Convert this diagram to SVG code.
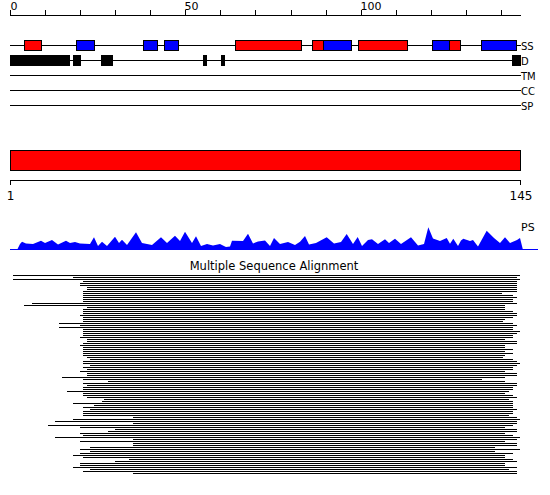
<svg xmlns="http://www.w3.org/2000/svg" width="550" height="495" viewBox="0 0 550 495">
<style>
.ln{stroke:#000;stroke-width:1;fill:none}
.red{fill:#ff0000;stroke:#000;stroke-width:1}
.blue{fill:#0000ff;stroke:#000;stroke-width:1}
.blk{fill:#000}
.t{font-family:"DejaVu Sans",sans-serif;fill:#000}
</style>
<rect width="550" height="495" fill="#fff"/>
<g id="ruler-top">
<path class="ln" d="M10 15.5H521M10.5 10V15M45.5 10V15M80.5 10V15M115.5 10V15M150.5 10V15M185.5 10V15M220.5 10V15M255.5 10V15M291.5 10V15M326.5 10V15M361.5 10V15M396.5 10V15M431.5 10V15M466.5 10V15M501.5 10V15"/>
<text class="t" x="10.5" y="10" font-size="11">0</text>
<text class="t" x="184.5" y="10" font-size="11">50</text>
<text class="t" x="360.5" y="10" font-size="11">100</text>
</g>
<g id="track-SS">
<path class="ln" d="M10 45.5H521"/>
<rect class="red" x="24.5" y="40.5" width="17" height="10"/>
<rect class="blue" x="76.5" y="40.5" width="18" height="10"/>
<rect class="blue" x="143.5" y="40.5" width="14" height="10"/>
<rect class="blue" x="164.5" y="40.5" width="14" height="10"/>
<rect class="red" x="235.5" y="40.5" width="66" height="10"/>
<rect class="red" x="312.5" y="40.5" width="11" height="10"/>
<rect class="blue" x="323.5" y="40.5" width="28" height="10"/>
<rect class="red" x="358.5" y="40.5" width="49" height="10"/>
<rect class="blue" x="432.5" y="40.5" width="17" height="10"/>
<rect class="red" x="449.5" y="40.5" width="11" height="10"/>
<rect class="blue" x="481.5" y="40.5" width="35" height="10"/>
<text class="t" x="521" y="49.5" font-size="10">SS</text>
</g>
<g id="track-D">
<path class="ln" d="M10 60.5H521"/>
<rect class="blk" x="10" y="55" width="60" height="11"/>
<rect class="blk" x="73" y="55" width="8" height="11"/>
<rect class="blk" x="101" y="55" width="12" height="11"/>
<rect class="blk" x="203" y="55" width="4" height="11"/>
<rect class="blk" x="221" y="55" width="4" height="11"/>
<rect class="blk" x="512" y="55" width="9" height="11"/>
<text class="t" x="521" y="64.5" font-size="10">D</text>
</g>
<g id="track-TM">
<path class="ln" d="M10 75.5H521"/>
<text class="t" x="521" y="79.5" font-size="10">TM</text>
</g>
<g id="track-CC">
<path class="ln" d="M10 90.5H521"/>
<text class="t" x="521" y="94.5" font-size="10">CC</text>
</g>
<g id="track-SP">
<path class="ln" d="M10 105.5H521"/>
<text class="t" x="521" y="109.5" font-size="10">SP</text>
</g>
<g id="domain-bar">
<rect class="red" x="10.5" y="150.5" width="510" height="20"/>
</g>
<g id="ruler-bottom">
<path class="ln" d="M10.5 180.5H520.5M10.5 180V185M520.5 180V185"/>
<text class="t" x="10.5" y="200" font-size="12" text-anchor="middle">1</text>
<text class="t" x="521" y="200" font-size="12" text-anchor="middle">145</text>
</g>
<g id="track-PS">
<polygon fill="#0000ff" points="10,250 17,250 20,244 22,241.7 26,243.5 33,244 41,240.7 45,243 52,240 58,244.5 66,240.7 70,243 75,242 80,243.5 90,244 94,237.3 98,246 102,241.7 107,246 115,236.7 119,243 122,239.7 127,245 136,232.3 142,243 152,245 161,237.3 167,243 175,235.7 180,241 185,231.7 192,243 196,236.3 201,246 207,244 213,245.5 220,244 226,247 230,246.5 232,240.7 243,241 248,233.7 253,243.5 258,241.5 265,240.5 270,246 274,238 280,244 288,242 295,245 300,241.7 305,236 309,244.5 316,243 326.7,237.3 334,243.5 341,242 346.7,234 353,244 357.7,237 362,246 368,240 372,239.3 378,244 385,239.3 389,243 395,238.7 401,244 411,237.3 418,245.5 424,244 428.3,227.3 433,238.5 440,241 446.7,238 450,243.7 453.3,238.7 458,246 461,240.5 463.3,238.7 470,241 473,240 478,246.5 486.7,230.7 494,238 500,243 505,237.3 510,243 517,240 520,238 521,242 523,250"/>
<path d="M10 249.5H538" stroke="#0000ff" stroke-width="1"/>
<text class="t" x="521" y="230.5" font-size="11">PS</text>
</g>
<g id="msa">
<text class="t" x="274" y="270" font-size="11.5" text-anchor="middle">Multiple Sequence Alignment</text>
<path class="ln" d="M13 275.5H520M73 277.5H517M13 279.5H520M83 281.5H517M80 283.5H517M80 285.5H517M87 287.5H517M87 289.5H517M83 291.5H517M83 293.5H502M83 295.5H513M83 297.5H517M83 299.5H513M83 301.5H513M32 303.5H517M24 305.5H505M87 307.5H505M83 309.5H505M83 311.5H513M83 313.5H517M80 315.5H517M83 317.5H513M83 319.5H505M83 321.5H503M59 323.5H513M80 325.5H517M59 327.5H513M83 329.5H513M83 331.5H520M83 333.5H517M83 335.5H513M80 337.5H513M87 339.5H505M87 341.5H517M83 343.5H517M80 345.5H505M83 347.5H505M83 349.5H513M83 351.5H505M83 353.5H513M83 355.5H505M87 357.5H503M90 359.5H513M83 361.5H517M83 363.5H520M90 365.5H517M83 367.5H513M87 369.5H513M80 371.5H505M87 373.5H517M87 375.5H517M62 377.5H505M83 379.5H482M108 381.5H505M83 383.5H517M87 385.5H517M83 387.5H513M83 389.5H513M67 391.5H509M83 393.5H505M83 395.5H513M87 397.5H517M104 399.5H509M102 401.5H513M73 403.5H513M94 405.5H513M83 407.5H513M90 409.5H517M83 411.5H513M83 413.5H513M83 415.5H509M133 417.5H517M73 419.5H520M55 421.5H517M133 423.5H517M48 425.5H513M80 427.5H505M115 429.5H517M108 431.5H517M80 433.5H505M83 435.5H513M55 437.5H520M133 439.5H517M80 441.5H505M133 443.5H517M133 445.5H517M90 447.5H495M80 449.5H520M90 451.5H495M80 453.5H513M73 455.5H505M83 457.5H505M129 459.5H513M115 461.5H517M80 463.5H505M80 465.5H505M73 467.5H517M90 469.5H509M83 471.5H517M133 473.5H517"/>
</g>
</svg>
